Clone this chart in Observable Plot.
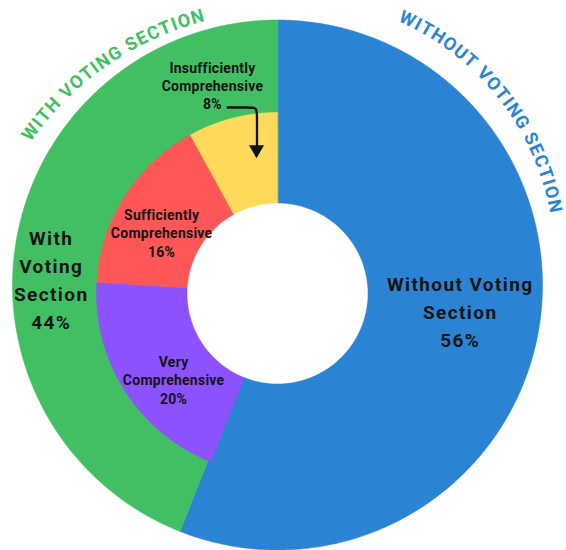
<!DOCTYPE html>
<html><head><meta charset="utf-8">
<script src="https://cdn.jsdelivr.net/npm/d3@7"></script>
<script src="https://cdn.jsdelivr.net/npm/@observablehq/plot@0.6"></script>
<style>html,body{margin:0;padding:0;background:#fff;}</style>
</head><body><div id="chart"></div>
<script>
// ---------- data ----------
const outerLabels = ["Without Voting Section", "With Voting Section"];
const outerValues = [56, 44];
const outerLabelText = ["Without Voting\nSection", "With\nVoting\nSection"];
const innerLabels = ["Very Comprehensive", "Sufficiently Comprehensive", "Insufficiently Comprehensive"];
const innerValues = [20, 16, 8];
const innerLabelText = ["Very\nComprehensive", "Sufficiently\nComprehensive", "Insufficiently\nComprehensive"];
const ringTitles = ["WITHOUT VOTING SECTION", "WITH VOTING SECTION"];
const outerColors = ["#2b84d3", "#41bf62"];
const innerColors = ["#8c52ff", "#ff5757", "#ffd95a"];

// ---------- layout (chart units = px, origin at inner centre) ----------
const W = 566, H = 550;
const C2 = [0, 0], C1 = [0, -8.5];
const R_OUT = 265, R_RING = 181, R_HOLE = 90;
const outerLabelPos = [[95.3, 182.8], [273.9, 227.5]];          // [angle, radius]
const innerLabelPos = [[230.4, 135], [297.7, 131], [342.6, 218]];
const titleArcs = [ // centre, radius, mid angle
  {c: [17, -34], r: 265.5, mid: 51.6, color: outerColors[0]},
  {c: [4, 24], r: 312, mid: -34.75, color: outerColors[1]}
];
const BIG_LS = 1.4, SMALL_LS = 0.25;
const rad = Math.PI / 180;
const pt = (c, r, a) => [c[0] + r * Math.sin(a * rad), c[1] - r * Math.cos(a * rad)];
function arc(c, r, a0, a1) {
  const n = Math.max(2, Math.ceil(Math.abs(a1 - a0) / 0.5));
  return d3.range(n + 1).map(i => pt(c, r, a0 + (a1 - a0) * i / n));
}

// wedges
const outerTotal = d3.sum(outerValues);
let acc = 0;
const outerWedges = outerLabels.map((name, i) => {
  const a0 = acc / outerTotal * 360; acc += outerValues[i];
  const a1 = acc / outerTotal * 360;
  return {name, a0, a1, value: outerValues[i]};
});
let accI = outerValues[0];
const innerWedges = innerLabels.map((name, i) => {
  const a0 = accI / outerTotal * 360; accI += innerValues[i];
  const a1 = accI / outerTotal * 360;
  return {name, a0, a1, value: innerValues[i]};
});
const rows = [];
outerWedges.forEach(w => [C1, ...arc(C1, R_OUT, w.a0, w.a1)].forEach(p => rows.push({name: w.name, x: p[0], y: p[1]})));
const innerRows = [];
innerWedges.forEach(w => [C2, ...arc(C2, R_RING, w.a0, w.a1)].forEach(p => innerRows.push({name: w.name, x: p[0], y: p[1]})));
const hole = arc(C2, R_HOLE, 0, 360).map(p => ({x: p[0], y: p[1]}));

// labels
const labels = outerWedges.map((w, i) => { const p = pt(C2, outerLabelPos[i][1], outerLabelPos[i][0]); return {x: p[0], y: p[1], t: outerLabelText[i] + "\n" + w.value + "%"}; });
const smallLabels = innerWedges.map((w, i) => { const p = pt(C2, innerLabelPos[i][1], innerLabelPos[i][0]); return {x: p[0], y: p[1], t: innerLabelText[i] + "\n" + w.value + "%"}; });

// curved titles, one text per character
const ctx = document.createElement("canvas").getContext("2d");
const TFS = 18, TLS = 1.5;
ctx.font = `bold ${TFS}px Roboto`;
const chars = [];
ringTitles.forEach((s, k) => {
  const arcDef = titleArcs[k];
  const ws = [...s].map(ch => ctx.measureText(ch).width);
  const L = d3.sum(ws) + TLS * (ws.length - 1);
  let pos = 0;
  [...s].forEach((ch, i) => {
    const centre = pos + ws[i] / 2 - L / 2;
    pos += ws[i] + TLS;
    const a = arcDef.mid + centre / arcDef.r / rad;
    const p = pt(arcDef.c, arcDef.r, a);
    chars.push({ch, x: p[0], y: p[1], rot: a, color: arcDef.color});
  });
});

// callout arrow for the smallest slice
const arrowPath = [[-50, -186], [-28, -186], [-20.5, -186], [-20.5, -177], [-20.5, -147]];
const arrowHead = [[-21, -144]];

const allNames = [...outerLabels, ...innerLabels];
const allColors = [...outerColors, ...innerColors];

const chart = Plot.plot({
  width: W, height: H, margin: 0,
  x: {domain: [-277, 289], range: [0, W], axis: null},
  y: {domain: [-293, 257], range: [0, H], axis: null},
  color: {domain: allNames, range: allColors},
  marks: [
    Plot.line(rows, {x: "x", y: "y", z: "name", fill: "name", stroke: "name", strokeWidth: 0.5, curve: "linear-closed"}),
    Plot.line(innerRows, {x: "x", y: "y", z: "name", fill: "name", stroke: "name", strokeWidth: 0.5, curve: "linear-closed"}),
    Plot.line(hole, {x: "x", y: "y", fill: "white", stroke: "white", strokeWidth: 0.5, curve: "linear-closed"}),
    Plot.text(labels, {x: "x", y: "y", text: "t", dx: BIG_LS / 2, fontSize: 19, fontWeight: 700, fontFamily: "Roboto", lineHeight: 1.47, lineAnchor: "middle", textAnchor: "middle", fill: "#141414"}),
    Plot.text(smallLabels, {x: "x", y: "y", text: "t", dx: SMALL_LS / 2, fontSize: 14, fontWeight: 700, fontFamily: "Roboto", lineHeight: 1.3, lineAnchor: "middle", textAnchor: "middle", fill: "#141414"}),
    Plot.line(arrowPath, {x: d => d[0], y: d => d[1], stroke: "#111", strokeWidth: 2.3, curve: "basis"}),
    Plot.dot(arrowHead, {x: d => d[0], y: d => d[1], symbol: "triangle", r: 5.6, rotate: 180, fill: "#111", stroke: "none"}),
    Plot.text(chars, {x: "x", y: "y", text: "ch", rotate: "rot", fill: "color", fontSize: TFS, fontWeight: 700, fontFamily: "Roboto", textAnchor: "middle", lineAnchor: "middle"})
  ]
});
const textGroups = d3.select(chart).selectAll('g[aria-label="text"]').nodes();
d3.select(textGroups[0]).selectAll("text").style("letter-spacing", BIG_LS + "px");
d3.select(textGroups[1]).selectAll("text").style("letter-spacing", SMALL_LS + "px");
document.getElementById("chart").appendChild(chart);
</script>
</body></html>
